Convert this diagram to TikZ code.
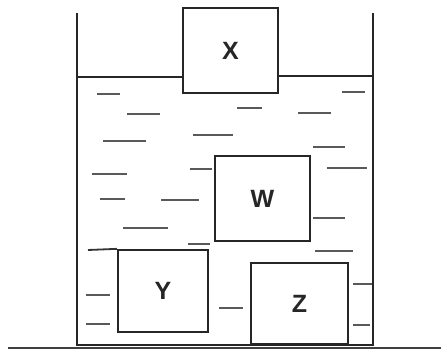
\documentclass[tikz,border=0pt]{standalone}
\usepackage{fontspec}
\setmainfont{Liberation Sans}
\begin{document}
\begin{tikzpicture}[x=1pt,y=-1pt,
  wall/.style={line width=2.3pt,draw=black!85,line cap=rect},
  block/.style={draw=black!85,line width=2.3pt,fill=white,inner sep=0pt,
    font=\fontsize{25}{25}\selectfont\bfseries,text=black!85},
  ripple/.style={line width=1.4pt,draw=black!65}]
\useasboundingbox (0,0) rectangle (441,352);
% container and ground
\coordinate (tl) at (77,13);
\coordinate (bl) at (77,345);
\coordinate (br) at (373,345);
\coordinate (tr) at (373,13);
\coordinate (g1) at (8,348);
\coordinate (g2) at (441,348);
\draw[line width=1.6pt,draw=black!75] (g1) -- (g2);
\draw[wall,line cap=butt] (tl) -- (bl) -- (br) -- (tr);
% blocks
\node[block,minimum width=95pt,minimum height=85pt] (X) at (230.5,50.5) {X};
\node[block,minimum width=95pt,minimum height=85pt] (W) at (262.5,198.5) {W};
\node[block,minimum width=90pt,minimum height=82pt] (Y) at (163,291) {Y};
\node[block,minimum width=97pt,minimum height=81pt] (Z) at (299.5,303.5) {Z};
% water surface
\coordinate (wl) at (77,77);
\coordinate (wr) at (373,76);
\draw[wall] (wl) -- (wl -| X.west);
\draw[wall] (X.east |- wr) -- (wr);
% ripples
\coordinate (d18) at (88,250);
\draw[ripple,draw=black!80,line width=1.8pt] (d18) -- (Y.north west);
\foreach \a/\b/\y in {97/120/94, 127/160/114, 237/262/108, 298/331/113, 342/365/92,
  103/146/141, 193/233/135, 313/345/147, 327/367/168, 92/127/174, 190/212/169,
  100/125/199, 161/199/200, 123/168/228, 188/210/244, 313/345/218, 315/353/251,
  86/110/295, 86/110/324, 219/243/308, 353/372/284, 353/370/325}{
  \coordinate (ra) at (\a,\y);
  \coordinate (rb) at (\b,\y);
  \draw[ripple] (ra) -- (rb);
}
\end{tikzpicture}
\end{document}
